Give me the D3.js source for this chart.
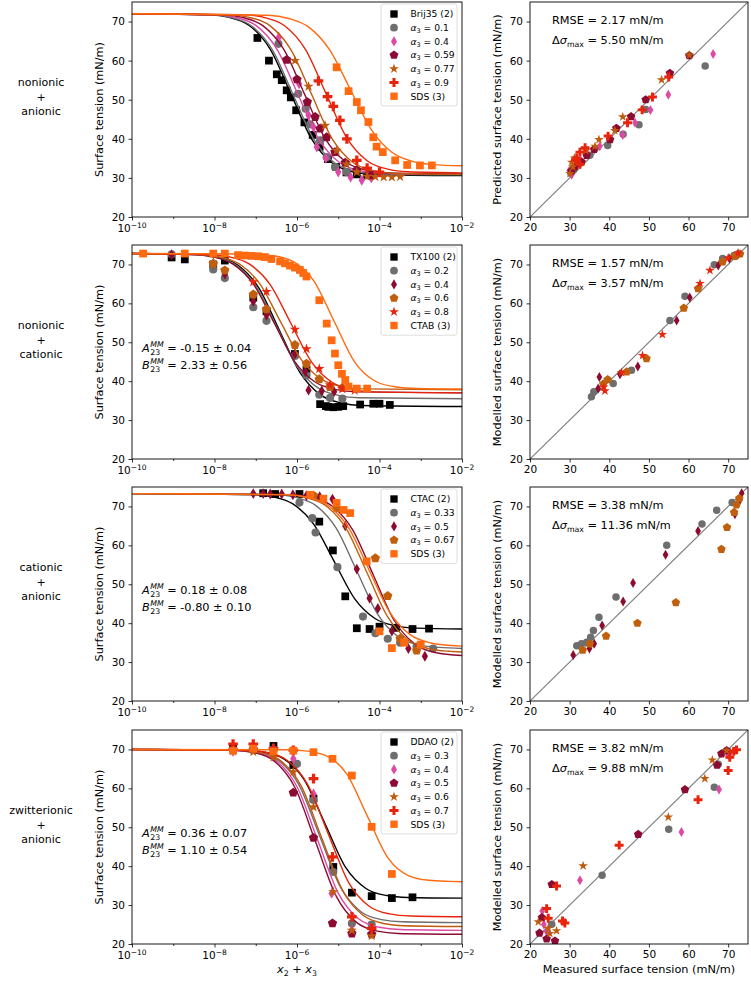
<!DOCTYPE html>
<html><head><meta charset="utf-8">
<script src="https://cdn.jsdelivr.net/npm/d3@7"></script>
<style>
body{margin:0;background:#fff}
text{font-family:'DejaVu Sans',sans-serif;fill:#000}
</style></head>
<body><svg id="c" width="751" height="981"></svg>
<script>
// ---------- DATA (x values are log10 of x2+x3) ----------
const rowLabels = [["nonionic","+","anionic"],["nonionic","+","cationic"],["cationic","+","anionic"],["zwitterionic","+","anionic"]];
const xTickExps = [-10,-8,-6,-4,-2];
const yTicks = [20,30,40,50,60,70];
const parityLabels = ["Predicted surface tension (mN/m)","Modelled surface tension (mN/m)","Modelled surface tension (mN/m)","Modelled surface tension (mN/m)"];
const rmseText = ["2.17","1.57","3.38","3.82"];
const dsigText = ["5.50","3.57","11.36","9.88"];
const coefA = [null,"-0.15 \u00b1 0.04","0.18 \u00b1 0.08","0.36 \u00b1 0.07"];
const coefB = [null,"2.33 \u00b1 0.56","-0.80 \u00b1 0.10","1.10 \u00b1 0.54"];

// Row 1: nonionic + anionic
const r1Names = ["Brij35 (2)","0.1","0.4","0.59","0.77","0.9","SDS (3)"];
const r1Colors = ["#000000","#6e6e6e","#dd4aa6","#8c0b33","#c05a0c","#e8250c","#ff6a10"];
const r1Markers = ["square","circle","diamond","pentagon","star","plus","square"];
const r1Brij35 = [[-6.96,65.8],[-6.68,60.0],[-6.49,56.5],[-6.37,55.0],[-6.25,52.4],[-6.15,50.6],[-6.02,47.3],[-5.82,44.2],[-5.62,41.0],[-5.45,38.0],[-5.25,34.8],[-5.05,32.8],[-4.8,31.4],[-4.55,30.9],[-4.3,30.7]];
const r1A01 = [[-6.45,64.3],[-5.97,51.5],[-5.79,47.7],[-5.68,43.7],[-5.44,39.6],[-5.28,35.3],[-5.08,32.8],[-4.8,31.5],[-4.23,30.6]];
const r1A04 = [[-6.44,66.0],[-5.95,54.1],[-5.72,46.0],[-5.6,43.0],[-5.52,37.9],[-5.3,35.0],[-5.0,31.5],[-4.7,30.2],[-4.43,29.4],[-4.2,30.0]];
const r1A059 = [[-6.25,60.2],[-6.0,55.2],[-5.75,49.4],[-5.56,45.6],[-5.44,42.6],[-5.28,40.4],[-5.08,36.6],[-4.83,33.9],[-4.55,32.0],[-4.23,30.7]];
const r1A077 = [[-6.05,60.0],[-5.72,53.4],[-5.32,43.4],[-5.04,37.0],[-4.8,33.5],[-4.55,31.5],[-4.3,30.4],[-4.1,30.3],[-3.9,30.2],[-3.7,30.2],[-3.5,30.3]];
const r1A09 = [[-5.48,54.8],[-5.26,50.8],[-5.12,48.3],[-4.96,44.7],[-4.79,40.0],[-4.55,34.5],[-4.3,32.5],[-4.0,31.5]];
const r1SDS = [[-5.04,58.3],[-4.75,52.2],[-4.55,49.4],[-4.45,47.3],[-4.27,44.3],[-4.15,40.4],[-4.07,38.0],[-3.92,36.6],[-3.62,34.5],[-3.33,33.3],[-3.02,33.2],[-2.73,33.2]];
const r1Fits = [
 [[-10,72],[-8.14,71.72],[-7.64,71.05],[-7.14,68.85],[-6.64,62.77],[-6.14,51.3],[-5.64,39.83],[-5.14,33.75],[-4.64,31.55],[-4.14,30.88],[-2,30.6]],
 [[-10,72],[-8.1,71.72],[-7.6,71.05],[-7.1,68.87],[-6.6,62.81],[-6.1,51.4],[-5.6,39.99],[-5.1,33.93],[-4.6,31.75],[-4.1,31.08],[-2,30.8]],
 [[-10,72],[-7.98,71.7],[-7.48,71.05],[-6.98,68.88],[-6.48,62.83],[-5.98,51.45],[-5.48,40.07],[-4.98,34.02],[-4.48,31.85],[-3.98,31.18],[-2,30.9]],
 [[-10,72],[-7.82,71.73],[-7.32,71.06],[-6.82,68.88],[-6.32,62.86],[-5.82,51.5],[-5.32,40.14],[-4.82,34.12],[-4.32,31.94],[-3.82,31.27],[-2,31.0]],
 [[-10,72],[-7.65,71.7],[-7.15,71.05],[-6.65,68.88],[-6.15,62.83],[-5.65,51.45],[-5.15,40.07],[-4.65,34.02],[-4.15,31.85],[-3.65,31.18],[-2,30.9]],
 [[-10,72],[-7.3,71.73],[-6.8,71.06],[-6.3,68.91],[-5.8,62.92],[-5.3,51.65],[-4.8,40.38],[-4.3,34.39],[-3.8,32.24],[-3.3,31.57],[-2,31.3]],
 [[-10,72],[-6.7,71.61],[-6.2,70.79],[-5.7,68.45],[-5.2,62.64],[-4.7,52.5],[-4.2,42.36],[-3.7,36.55],[-3.2,34.21],[-2.7,33.39],[-2,33.1]]
];

// Row 2: nonionic + cationic
const r2Names = ["TX100 (2)","0.2","0.4","0.6","0.8","CTAB (3)"];
const r2Colors = ["#000000","#6e6e6e","#8c0b2e","#c0600e","#e8250c","#ff6a10"];
const r2Markers = ["square","circle","diamond","pentagon","star","square"];
const r2TX100 = [[-9.04,71.8],[-8.72,71.3],[-8.03,70.0],[-7.75,71.0],[-7.06,61.5],[-6.74,58.0],[-6.05,47.0],[-5.77,43.0],[-5.44,34.1],[-5.3,33.6],[-5.24,33.4],[-5.12,33.3],[-5.0,33.4],[-4.88,33.6],[-4.47,34.0],[-4.15,34.2],[-4.0,34.2],[-3.75,33.9]];
const r2A02 = [[-9.04,72.6],[-8.03,68.7],[-7.75,66.5],[-7.06,59.0],[-6.74,55.5],[-6.05,46.5],[-5.77,41.5],[-5.46,36.5],[-5.2,35.7],[-4.9,35.5]];
const r2A04 = [[-9.04,72.5],[-8.03,70.3],[-7.75,67.5],[-7.06,60.5],[-6.74,57.0],[-6.05,47.0],[-5.8,42.5],[-5.72,37.7],[-5.4,37.5],[-5.1,37.3]];
const r2A06 = [[-8.03,70.2],[-7.75,68.5],[-7.06,62.3],[-6.74,58.5],[-6.05,49.3],[-5.77,44.5],[-5.46,40.5],[-5.2,38.5],[-4.9,38.3]];
const r2A08 = [[-7.06,65.5],[-6.74,63.0],[-6.05,53.3],[-5.77,48.3],[-5.46,43.2],[-5.2,39.0],[-4.9,38.0],[-4.6,37.6]];
const r2CTAB = [[-9.73,72.8],[-8.72,72.8],[-8.03,72.8],[-7.75,72.8],[-7.43,72.4],[-7.27,72.3],[-7.1,72.2],[-6.94,72.1],[-6.78,71.9],[-6.62,71.4],[-6.41,70.8],[-6.29,70.3],[-6.17,69.7],[-6.05,69.2],[-5.93,68.6],[-5.85,67.8],[-5.77,66.9],[-5.46,60.8],[-5.28,54.8],[-5.16,50.5],[-5.08,47.1],[-5.0,44.1],[-4.91,41.9],[-4.83,40.3],[-4.75,38.6],[-4.55,38.1],[-4.3,38.1]];
const r2Fits = [
 [[-10,72.8],[-8.43,72.54],[-7.93,71.9],[-7.43,69.81],[-6.93,64.04],[-6.43,53.15],[-5.93,42.26],[-5.43,36.49],[-4.93,34.4],[-4.43,33.76],[-2,33.5]],
 [[-10,72.8],[-8.5,72.55],[-8.0,71.94],[-7.5,69.97],[-7.0,64.48],[-6.5,54.15],[-6.0,43.82],[-5.5,38.33],[-5.0,36.36],[-4.5,35.75],[-2,35.5]],
 [[-10,72.8],[-8.55,72.56],[-8.05,71.98],[-7.55,70.08],[-7.05,64.82],[-6.55,54.9],[-6.05,44.98],[-5.55,39.72],[-5.05,37.82],[-4.55,37.24],[-2,37.0]],
 [[-10,72.8],[-8.4,72.57],[-7.9,71.99],[-7.4,70.14],[-6.9,65.0],[-6.4,55.3],[-5.9,45.6],[-5.4,40.46],[-4.9,38.6],[-4.4,38.03],[-2,37.8]],
 [[-10,72.8],[-8.15,72.56],[-7.65,71.98],[-7.15,70.08],[-6.65,64.82],[-6.15,54.9],[-5.65,44.98],[-5.15,39.72],[-4.65,37.82],[-4.15,37.24],[-2,37.0]],
 [[-10,72.8],[-7.1,72.67],[-6.6,72.28],[-6.1,70.82],[-5.6,65.91],[-5.1,55.4],[-4.6,44.89],[-4.1,39.98],[-3.6,38.52],[-3.1,38.13],[-2,38.0]]
];

// Row 3: cationic + anionic
const r3Names = ["CTAC (2)","0.33","0.5","0.67","SDS (3)"];
const r3Colors = ["#000000","#6e6e6e","#8c0b2e","#c0600e","#ff6a10"];
const r3Markers = ["square","circle","diamond","pentagon","square"];
const r3CTAC = [[-6.82,73.4],[-6.53,73.2],[-5.94,73.2],[-5.46,66.1],[-5.13,58.7],[-4.83,46.9],[-4.55,38.7],[-4.24,38.5],[-4.0,39.1],[-3.6,38.8],[-3.2,38.5],[-2.8,38.6]];
const r3A033 = [[-5.94,71.0],[-5.63,67.0],[-5.55,63.3],[-5.02,54.4],[-4.4,41.7],[-4.1,37.4],[-3.8,36.0],[-3.5,35.0],[-3.1,34.0],[-2.7,33.5]];
const r3A05 = [[-7.06,73.3],[-6.82,73.3],[-6.65,73.2],[-6.37,73.2],[-6.1,73.0],[-5.77,72.8],[-5.45,72.5],[-5.14,71.9],[-4.83,65.0],[-4.55,53.9],[-4.24,46.4],[-4.04,43.8],[-3.7,38.0],[-3.3,33.5],[-2.9,31.5]];
const r3A067 = [[-5.6,72.8],[-5.04,69.6],[-4.1,56.7],[-3.8,47.0],[-3.5,36.0],[-3.1,33.0]];
const r3SDS = [[-5.68,73.0],[-5.36,72.0],[-5.04,70.9],[-4.87,69.1],[-4.71,68.3],[-4.31,55.9],[-4.0,37.9],[-3.7,33.6],[-3.4,35.0],[-3.0,34.5]];
const r3Fits = [
 [[-10,73.3],[-7.1,73.07],[-6.6,72.5],[-6.1,70.66],[-5.6,65.54],[-5.1,55.9],[-4.6,46.26],[-4.1,41.14],[-3.6,39.3],[-3.1,38.73],[-2,38.5]],
 [[-10,73.3],[-6.55,73.03],[-6.05,72.38],[-5.55,70.28],[-5.05,64.42],[-4.55,53.4],[-4.05,42.38],[-3.55,36.52],[-3.05,34.42],[-2.55,33.77],[-2,33.5]],
 [[-10,73.3],[-6.15,73.02],[-5.65,72.34],[-5.15,70.12],[-4.65,63.98],[-4.15,52.4],[-3.65,40.82],[-3.15,34.68],[-2.65,32.46],[-2,31.7]],
 [[-10,73.3],[-6.3,73.03],[-5.8,72.36],[-5.3,70.2],[-4.8,64.2],[-4.3,52.9],[-3.8,41.6],[-3.3,35.6],[-2.8,33.44],[-2.3,32.77],[-2,32.6]],
 [[-10,73.3],[-6.25,73.04],[-5.75,72.4],[-5.25,70.31],[-4.75,64.54],[-4.25,53.65],[-3.75,42.76],[-3.25,36.99],[-2.75,34.9],[-2.25,34.26],[-2,34.1]]
];

// Row 4: zwitterionic + anionic
const r4Names = ["DDAO (2)","0.3","0.4","0.5","0.6","0.7","SDS (3)"];
const r4Colors = ["#000000","#6e6e6e","#dd4aa6","#8c0b33","#c05a0c","#e8250c","#ff6a10"];
const r4Markers = ["square","circle","diamond","pentagon","star","plus","square"];
const r4DDAO = [[-7.55,70.5],[-6.57,70.9],[-6.09,66.0],[-5.6,57.4],[-5.12,39.8],[-4.67,33.2],[-4.19,32.3],[-3.7,31.8],[-3.2,32.0]];
const r4A03 = [[-7.55,69.8],[-6.57,70.0],[-6.0,66.3],[-5.6,57.0],[-5.12,38.5],[-4.67,25.3],[-4.19,25.0]];
const r4A04 = [[-7.55,69.5],[-6.57,69.5],[-6.09,67.6],[-5.6,58.6],[-5.16,33.0],[-4.67,23.6],[-4.19,23.5]];
const r4A05 = [[-7.55,70.0],[-7.06,70.0],[-6.57,69.8],[-6.09,58.9],[-5.6,47.3],[-5.14,25.3],[-4.67,22.7],[-4.19,22.5]];
const r4A06 = [[-7.55,69.6],[-7.06,69.4],[-6.57,68.0],[-6.09,64.2],[-5.6,55.2],[-5.12,33.4],[-4.67,23.5],[-4.19,22.1]];
const r4A07 = [[-7.55,71.4],[-7.06,71.4],[-6.57,70.3],[-6.09,69.8],[-5.6,62.5],[-5.14,42.4],[-4.67,27.0],[-4.19,24.0]];
const r4SDS = [[-7.55,69.7],[-7.06,70.2],[-6.57,69.5],[-6.09,69.7],[-5.6,69.3],[-5.14,67.6],[-4.67,63.3],[-4.19,50.1],[-3.7,38.0]];
const r4Fits = [
 [[-10,70],[-7.32,69.83],[-6.82,69.35],[-6.32,67.59],[-5.82,62.13],[-5.32,50.9],[-4.82,39.67],[-4.32,34.21],[-3.82,32.45],[-3.32,31.97],[-2,31.8]],
 [[-10,70],[-7.45,69.8],[-6.95,69.24],[-6.45,67.2],[-5.95,60.83],[-5.45,47.75],[-4.95,34.67],[-4.45,28.3],[-3.95,26.26],[-3.45,25.7],[-2,25.5]],
 [[-10,70],[-7.5,69.79],[-7.0,69.21],[-6.5,67.07],[-6.0,60.42],[-5.5,46.75],[-5.0,33.08],[-4.5,26.43],[-4.0,24.29],[-3.5,23.71],[-2,23.5]],
 [[-10,70],[-7.55,69.79],[-7.05,69.19],[-6.55,67.01],[-6.05,60.22],[-5.55,46.25],[-5.05,32.29],[-4.55,25.49],[-4.05,23.31],[-3.55,22.71],[-2,22.5]],
 [[-10,70],[-7.4,69.8],[-6.9,69.23],[-6.4,67.13],[-5.9,60.63],[-5.4,47.25],[-4.9,33.87],[-4.4,27.37],[-3.9,25.27],[-3.4,24.7],[-2,24.5]],
 [[-10,70],[-7.25,69.81],[-6.75,69.27],[-6.25,67.29],[-5.75,61.14],[-5.25,48.5],[-4.75,35.86],[-4.25,29.71],[-3.75,27.73],[-3.25,27.19],[-2,27.0]],
 [[-10,70],[-6.3,69.92],[-5.8,69.63],[-5.3,68.4],[-4.8,63.81],[-4.3,53],[-3.8,42.19],[-3.3,37.6],[-2.8,36.37],[-2.3,36.09],[-2,36.0]]
];

// Parity plots: [measured, modelled], series index refers to row series
const p1Gray = [[64.2,58.6],[49.2,47.5],[47.5,43.6],[43.5,41.2],[39.6,38.3],[35.1,35.8],[32.4,33.6],[30.3,31.2],[31,32]];
const p1Pink = [[66.2,61.7],[54.9,51.3],[50.4,47.4],[46.5,44.1],[43.4,41.0],[37.6,38.1],[34.5,36.0],[29.9,31.8],[30.5,30.8]];
const p1Maroon = [[60.2,61.3],[55.3,56.8],[49.2,50.0],[45.5,45.7],[41.8,42.7],[40.2,39.8],[36.2,37.3],[34.3,35.8],[33.0,34.1],[31.3,32.8],[30.5,31.8]];
const p1Brown = [[60.2,61.4],[53.2,55.1],[43.4,45.6],[41.4,42.1],[37.4,39.8],[36.4,38.1],[34.1,37.0],[31.2,35.1],[30.8,32.8],[30.1,31.1],[30.5,34.0]];
const p1Red = [[55.0,55.8],[50.9,50.7],[48.3,47.4],[44.6,44.1],[39.7,40.7],[33.9,37.7],[32.6,36.6],[31.8,35.1],[32.6,33.5],[31.5,34.5]];
const p2Gray = [[35.5,36.0],[36.1,37.3],[41.0,39.4],[45.6,42.8],[55.3,55.6],[59.1,61.8],[66.5,69.9],[68.6,71.5],[71.5,72.3],[72.5,72.7]];
const p2Maroon = [[37.5,41.1],[37.2,38.1],[42.7,41.8],[47.2,43.8],[57.0,55.6],[60.3,61.5],[67.5,69.7],[70.3,71.5],[72.5,72.6]];
const p2Brown = [[39.6,40.4],[44.4,42.4],[49.4,45.8],[58.8,58.8],[62.4,63.8],[68.6,70.7],[71.7,72.1],[73.0,72.7],[38.5,39.3]];
const p2Red = [[38.9,37.5],[43.1,42.2],[48.4,46.6],[53.4,52.0],[62.9,65.1],[65.4,68.5],[70.0,71.7],[72.5,72.9],[38.6,38.5]];
const p3Gray = [[31.8,34.2],[33.0,34.7],[34.3,35.1],[35.3,36.4],[36.0,38.1],[37.4,41.5],[41.7,46.7],[54.5,60.0],[63.4,65.5],[67.1,69.0],[71.0,71.0]];
const p3Maroon = [[30.9,31.8],[35.0,33.5],[36.2,34.7],[38.2,39.4],[43.5,45.6],[46.0,50.3],[54.2,57.6],[62.4,63.7],[71.7,68.0],[73.0,71.7],[73.4,73.4]];
const p3Brown = [[33.3,33.1],[35.1,34.7],[39.2,36.7],[47.1,40.0],[56.8,45.3],[68.3,59.0],[69.7,64.6],[71.5,68.5],[72.1,70.4],[72.8,72.1]];
const p4Gray = [[25.5,25.1],[38.2,37.7],[55.0,49.5],[66.5,60.3],[67.5,66.2],[70.0,69.5]];
const p4Pink = [[23.1,28.5],[24.2,23.2],[23.5,25.0],[32.6,36.4],[58.2,48.8],[67.7,59.7],[70.0,68.6],[70.5,69.2]];
const p4Maroon = [[22.4,22.8],[23.0,26.8],[24.2,21.3],[25.5,35.3],[26.3,20.8],[47.3,48.2],[59.1,59.7],[67.2,66.0],[68.3,68.9],[69.6,69.7]];
const p4Brown = [[22.1,25.7],[24.6,24.0],[25.0,22.7],[26.7,23.4],[33.4,40.1],[54.9,52.6],[64.1,62.5],[66.0,67.3],[69.6,69.7]];
const p4Red = [[24.2,29.1],[24.6,26.6],[26.7,34.9],[28.2,25.9],[28.8,25.4],[42.5,45.4],[62.4,57.1],[70.0,64.6],[70.4,68.0],[71.4,69.5],[72.1,69.9]];

// ---------- ASSEMBLY ----------
const rows = [
 {names:r1Names,colors:r1Colors,markers:r1Markers,pts:[r1Brij35,r1A01,r1A04,r1A059,r1A077,r1A09,r1SDS],fits:r1Fits,
  parity:[[1,p1Gray],[2,p1Pink],[3,p1Maroon],[4,p1Brown],[5,p1Red]]},
 {names:r2Names,colors:r2Colors,markers:r2Markers,pts:[r2TX100,r2A02,r2A04,r2A06,r2A08,r2CTAB],fits:r2Fits,
  parity:[[1,p2Gray],[2,p2Maroon],[3,p2Brown],[4,p2Red]]},
 {names:r3Names,colors:r3Colors,markers:r3Markers,pts:[r3CTAC,r3A033,r3A05,r3A067,r3SDS],fits:r3Fits,
  parity:[[1,p3Gray],[2,p3Maroon],[3,p3Brown]]},
 {names:r4Names,colors:r4Colors,markers:r4Markers,pts:[r4DDAO,r4A03,r4A04,r4A05,r4A06,r4A07,r4SDS],fits:r4Fits,
  parity:[[1,p4Gray],[2,p4Pink],[3,p4Maroon],[4,p4Brown],[5,p4Red]]}
];

// ---------- LAYOUT ----------
const svg = d3.select('#c');
const LX0=132, LX1=462, RX0=530, RX1=748;
const rowTop=[2,245,487,730], rowBot=[217,459,701,944];
const FS=11.3, TFS=10.5;
const xL = d3.scaleLog().domain([1e-10,1e-2]).range([LX0,LX1]);
const xR = d3.scaleLinear().domain([20,75]).range([RX0,RX1]);

function markerPath(type, s){
  if(type==='pentagon'){
    const r=4.9*s, pts=d3.range(5).map(k=>{const a=-Math.PI/2+k*2*Math.PI/5;return [r*Math.cos(a),r*Math.sin(a)];});
    return d3.line()(pts)+'Z';
  }
  const map={square:[d3.symbolSquare,60],circle:[d3.symbolCircle,52],diamond:[d3.symbolDiamond,34],star:[d3.symbolStar,34],plus:[d3.symbolCross,52]};
  const m=map[type];
  return d3.symbol(m[0], m[1]*s*s)();
}

function drawMarkers(g, data, xf, yf, color, type, s){
  g.selectAll(null).data(data).enter().append('path')
   .attr('d', markerPath(type,s))
   .attr('transform', d=>`translate(${xf(d)},${yf(d)})`)
   .attr('fill', color);
}

function styleAxis(g){
  g.select('.domain').remove();
  g.selectAll('line').attr('stroke','#000').attr('stroke-width',0.8);
  g.selectAll('text').style('font-size',TFS+'px').style('font-family',"'DejaVu Sans',sans-serif");
}

rows.forEach((row,ri)=>{
  const top=rowTop[ri], bot=rowBot[ri];
  const y = d3.scaleLinear().domain([20,75]).range([bot,top]);
  const gL = svg.append('g');
  const clipId='clipL'+ri;
  svg.append('clipPath').attr('id',clipId).append('rect').attr('x',LX0).attr('y',top).attr('width',LX1-LX0).attr('height',bot-top);
  const plot = gL.append('g').attr('clip-path',`url(#${clipId})`);
  const lineGen = d3.line().x(d=>xL(Math.pow(10,d[0]))).y(d=>y(d[1])).curve(d3.curveMonotoneX);
  row.pts.forEach((pts,si)=>{
    drawMarkers(plot, pts, d=>xL(Math.pow(10,d[0])), d=>y(d[1]), row.colors[si], row.markers[si], 1);
    plot.append('path').attr('d',lineGen(row.fits[si])).attr('fill','none')
      .attr('stroke',row.colors[si]).attr('stroke-width',1.4);
  });
  // axes
  const ax = gL.append('g').attr('transform',`translate(0,${bot})`)
    .call(d3.axisBottom(xL).tickValues(xTickExps.map(e=>Math.pow(10,e))).tickSize(3.5).tickFormat(''));
  styleAxis(ax);
  const axm = gL.append('g').attr('transform',`translate(0,${bot})`)
    .call(d3.axisBottom(xL).tickValues([-9,-7,-5,-3].map(e=>Math.pow(10,e))).tickSize(2).tickFormat(''));
  styleAxis(axm);
  xTickExps.forEach(e=>{
    const t=gL.append('text').attr('x',xL(Math.pow(10,e))).attr('y',bot+15).attr('text-anchor','middle').style('font-size',TFS+'px');
    t.append('tspan').text('10');
    t.append('tspan').attr('dy',-4.5).style('font-size','7.5px').text('\u2212'+Math.abs(e));
  });
  const ay = gL.append('g').attr('transform',`translate(${LX0},0)`)
    .call(d3.axisLeft(y).tickValues(yTicks).tickSize(3.5).tickPadding(3.5));
  styleAxis(ay);
  gL.append('rect').attr('x',LX0).attr('y',top).attr('width',LX1-LX0).attr('height',bot-top)
    .attr('fill','none').attr('stroke','#000').attr('stroke-width',0.9);
  gL.append('text').attr('transform',`translate(103,${(top+bot)/2}) rotate(-90)`).attr('text-anchor','middle')
    .style('font-size',FS+'px').text('Surface tension (mN/m)');

  // legend
  const n=row.names.length;
  const lg = gL.append('g').attr('transform',`translate(381,${top+2})`);
  lg.append('rect').attr('width',76).attr('height',n*13.7+6).attr('rx',2).attr('fill','#fff').attr('fill-opacity',0.8)
    .attr('stroke','#d6d6d6').attr('stroke-width',0.8);
  row.names.forEach((nm,i)=>{
    const cy=10+i*13.7;
    lg.append('path').attr('d',markerPath(row.markers[i],0.95)).attr('transform',`translate(13,${cy})`).attr('fill',row.colors[i]);
    const t=lg.append('text').attr('x',29.5).attr('y',cy+3.3).style('font-size','9.2px').style('white-space','pre');
    if(i===0||i===n-1){ t.text(nm); }
    else {
      t.append('tspan').style('font-style','italic').text('\u03b1');
      t.append('tspan').attr('dy',2).style('font-size','6.5px').text('3');
      t.append('tspan').attr('dy',-2).text(' = '+nm);
    }
  });

  // coefficient annotation
  if(coefA[ri]){
    [['A',coefA[ri],top+107],['B',coefB[ri],top+124]].forEach(([L,val,yy])=>{
      const t1=gL.append('text').attr('x',142).attr('y',yy).style('font-size',FS+'px').style('font-style','italic').text(L);
      const w=t1.node().getComputedTextLength();
      const sp=gL.append('text').attr('x',142+w+0.6).attr('y',yy-5).style('font-size','7.8px').style('font-style','italic').text('MM');
      const sb=gL.append('text').attr('x',142+w+0.6).attr('y',yy+2.8).style('font-size','7.8px').text('23');
      const w2=Math.max(sp.node().getComputedTextLength(),sb.node().getComputedTextLength());
      gL.append('text').attr('x',142+w+w2+4).attr('y',yy).style('font-size',FS+'px').text('= '+val);
    });
  }

  // row label
  rowLabels[ri].forEach((s,k)=>{
    svg.append('text').attr('x',41).attr('y',top+84+k*14.5).attr('text-anchor','middle').style('font-size','11px').text(s);
  });

  // parity panel
  const gR = svg.append('g');
  const clipR='clipR'+ri;
  svg.append('clipPath').attr('id',clipR).append('rect').attr('x',RX0).attr('y',top).attr('width',RX1-RX0).attr('height',bot-top);
  const pr = gR.append('g').attr('clip-path',`url(#${clipR})`);
  pr.append('line').attr('x1',xR(20)).attr('y1',y(20)).attr('x2',xR(75)).attr('y2',y(75))
    .attr('stroke','#808080').attr('stroke-width',1.2);
  row.parity.forEach(([si,data])=>{
    drawMarkers(pr, data, d=>xR(d[0]), d=>y(d[1]), row.colors[si], row.markers[si], 0.92);
  });
  const rx = gR.append('g').attr('transform',`translate(0,${bot})`)
    .call(d3.axisBottom(xR).tickValues(yTicks).tickSize(3.5).tickPadding(3.5));
  styleAxis(rx);
  const ry = gR.append('g').attr('transform',`translate(${RX0},0)`)
    .call(d3.axisLeft(y).tickValues(yTicks).tickSize(3.5).tickPadding(3.5));
  styleAxis(ry);
  gR.append('rect').attr('x',RX0).attr('y',top).attr('width',RX1-RX0).attr('height',bot-top)
    .attr('fill','none').attr('stroke','#000').attr('stroke-width',0.9);
  gR.append('text').attr('transform',`translate(501,${(top+bot)/2}) rotate(-90)`).attr('text-anchor','middle')
    .style('font-size',FS+'px').text(parityLabels[ri]);
  gR.append('text').attr('x',552).attr('y',top+22).style('font-size',FS+'px').text('RMSE = '+rmseText[ri]+' mN/m');
  const dt=gR.append('text').attr('x',552).attr('y',top+42).style('font-size',FS+'px').style('white-space','pre');
  dt.append('tspan').text('\u0394');
  dt.append('tspan').style('font-style','italic').text('\u03c3');
  dt.append('tspan').attr('dy',2.5).style('font-size','7.8px').text('max');
  dt.append('tspan').attr('dy',-2.5).text(' = '+dsigText[ri]+' mN/m');
});

// bottom axis titles
const xt = svg.append('text').attr('x',297).attr('y',973).attr('text-anchor','middle').style('font-size',FS+'px').style('white-space','pre');
xt.append('tspan').style('font-style','italic').text('x');
xt.append('tspan').attr('dy',2.5).style('font-size','7.8px').text('2');
xt.append('tspan').attr('dy',-2.5).text(' + ');
xt.append('tspan').style('font-style','italic').text('x');
xt.append('tspan').attr('dy',2.5).style('font-size','7.8px').text('3');
svg.append('text').attr('x',639).attr('y',973).attr('text-anchor','middle').style('font-size',FS+'px').text('Measured surface tension (mN/m)');
</script></body></html>
